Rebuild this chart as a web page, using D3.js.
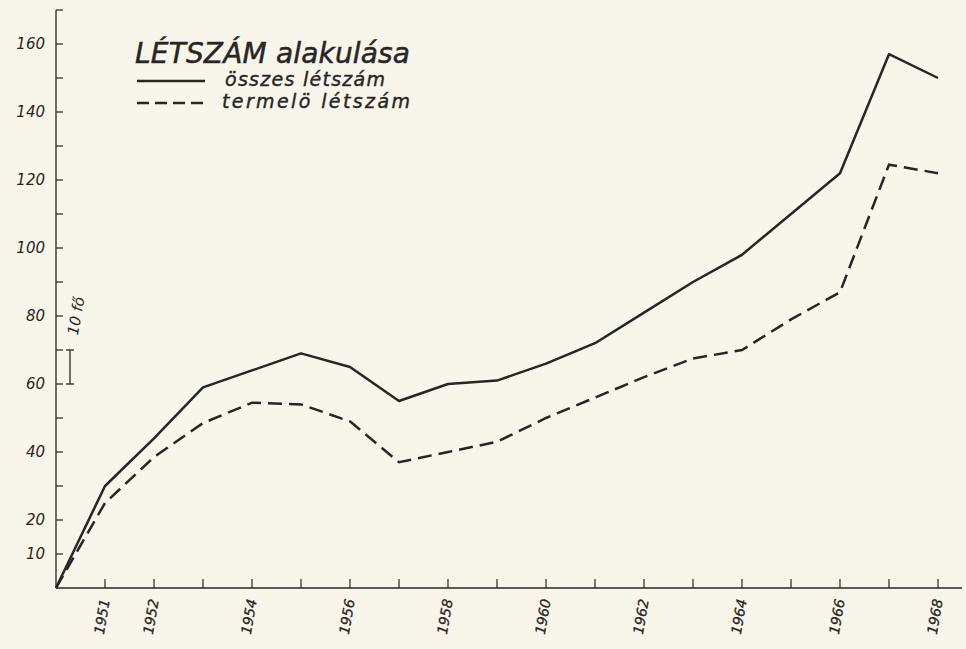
<!DOCTYPE html>
<html>
<head>
<meta charset="utf-8">
<script src="https://cdn.jsdelivr.net/npm/d3@7"></script>
<style>
  body { margin: 0; background: #f8f5ea; }
  svg { display: block; }
  text { font-family: 'DejaVu Sans', sans-serif; font-style: italic; fill: #262626; }
</style>
</head>
<body>
<div id="chart"></div>
<script>
let width = 966
let height = 649

let margin = { top: 10, left: 56, right: 28, bottom: 61 }

// data (unit: 10 fő)
let years = [1950, 1951, 1952, 1953, 1954, 1955, 1956, 1957, 1958, 1959, 1960, 1961, 1962, 1963, 1964, 1965, 1966, 1967, 1968]
let osszes = [0, 30, 44, 59, 64, 69, 65, 55, 60, 61, 66, 72, 81, 90, 98, 110, 122, 157, 150]
let termelo = [0, 25, 38.5, 48.5, 54.5, 54, 49, 37, 40, 43, 50, 56, 62, 67.5, 70, 79, 87, 124.5, 122]

let yLabels = [160, 140, 120, 100, 80, 60, 40, 20, 10]
let yMinor = [170, 150, 130, 110, 90, 70, 50, 30]
let xLabels = [1951, 1952, 1954, 1956, 1958, 1960, 1962, 1964, 1966, 1968]
let xTicks = d3.range(1951, 1969)

let svg = d3.select('#chart')
  .append('svg')
  .attr('width', width)
  .attr('height', height)

let x = d3.scaleLinear()
  .domain([1950, 1968])
  .range([margin.left, 938])

let y = d3.scaleLinear()
  .domain([0, 160])
  .range([height - margin.bottom, 44])

let ink = '#262626'

// axes
svg.append('line')
  .attr('x1', x(1950)).attr('x2', 962)
  .attr('y1', y(0)).attr('y2', y(0))
  .attr('stroke', ink).attr('stroke-width', 1.3)

svg.append('line')
  .attr('x1', x(1950)).attr('x2', x(1950))
  .attr('y1', y(0)).attr('y2', 10)
  .attr('stroke', ink).attr('stroke-width', 1.3)

svg.selectAll('.ytick')
  .data(yLabels.concat(yMinor))
  .enter()
  .append('line')
  .attr('x1', x(1950))
  .attr('x2', x(1950) + 7)
  .attr('y1', d => y(d))
  .attr('y2', d => y(d))
  .attr('stroke', ink)
  .attr('stroke-width', 1.2)

svg.selectAll('.ylabel')
  .data(yLabels)
  .enter()
  .append('text')
  .attr('x', 45)
  .attr('y', d => y(d))
  .attr('dy', '0.35em')
  .attr('text-anchor', 'end')
  .attr('font-size', 15)
  .text(d => d)

svg.selectAll('.xtick')
  .data(xTicks)
  .enter()
  .append('line')
  .attr('x1', d => x(d))
  .attr('x2', d => x(d))
  .attr('y1', y(0))
  .attr('y2', y(0) - 9)
  .attr('stroke', ink)
  .attr('stroke-width', 1.2)

svg.selectAll('.xlabel')
  .data(xLabels)
  .enter()
  .append('text')
  .attr('transform', d => `translate(${x(d)},${y(0) + 11}) rotate(-80)`)
  .attr('dy', '0.35em')
  .attr('text-anchor', 'end')
  .attr('font-size', 14)
  .attr('stroke', ink)
  .attr('stroke-width', 0.3)
  .text(d => d)

// "10 fő" scale marker
svg.append('text')
  .attr('transform', `translate(76,${y(80)}) rotate(-80)`)
  .attr('dy', '0.35em')
  .attr('text-anchor', 'middle')
  .attr('font-size', 15)
  .text('10 fő')

svg.append('line')
  .attr('x1', 70).attr('x2', 70)
  .attr('y1', y(60)).attr('y2', y(70))
  .attr('stroke', ink).attr('stroke-width', 1.3)

svg.selectAll('.marker-end')
  .data([60, 70])
  .enter()
  .append('line')
  .attr('x1', 66).attr('x2', 74)
  .attr('y1', d => y(d)).attr('y2', d => y(d))
  .attr('stroke', ink).attr('stroke-width', 1.3)

// lines
let line = d3.line()
  .x(d => x(d[0]))
  .y(d => y(d[1]))

svg.append('path')
  .datum(d3.zip(years, osszes))
  .attr('d', line)
  .attr('fill', 'none')
  .attr('stroke', ink)
  .attr('stroke-width', 2.5)
  .attr('stroke-linejoin', 'round')

svg.append('path')
  .datum(d3.zip(years, termelo))
  .attr('d', line)
  .attr('fill', 'none')
  .attr('stroke', ink)
  .attr('stroke-width', 2.5)
  .attr('stroke-dasharray', '14,7')

// title and legend
svg.append('text')
  .attr('x', 135)
  .attr('y', 63)
  .attr('font-size', 28)
  .attr('stroke', ink)
  .attr('stroke-width', 0.5)
  .attr('textLength', 275)
  .text('LÉTSZÁM alakulása')

svg.append('line')
  .attr('x1', 137).attr('x2', 205)
  .attr('y1', 81).attr('y2', 81)
  .attr('stroke', ink).attr('stroke-width', 2.3)

svg.append('text')
  .attr('x', 225)
  .attr('y', 86)
  .attr('font-size', 19)
  .attr('stroke', ink)
  .attr('stroke-width', 0.4)
  .attr('textLength', 160)
  .text('összes létszám')

svg.append('line')
  .attr('x1', 137).attr('x2', 208)
  .attr('y1', 103).attr('y2', 103)
  .attr('stroke', ink).attr('stroke-width', 2.3)
  .attr('stroke-dasharray', '12,6')

svg.append('text')
  .attr('x', 222)
  .attr('y', 108)
  .attr('font-size', 19)
  .attr('stroke', ink)
  .attr('stroke-width', 0.4)
  .attr('textLength', 188)
  .text('termelö létszám')
</script>
</body>
</html>
